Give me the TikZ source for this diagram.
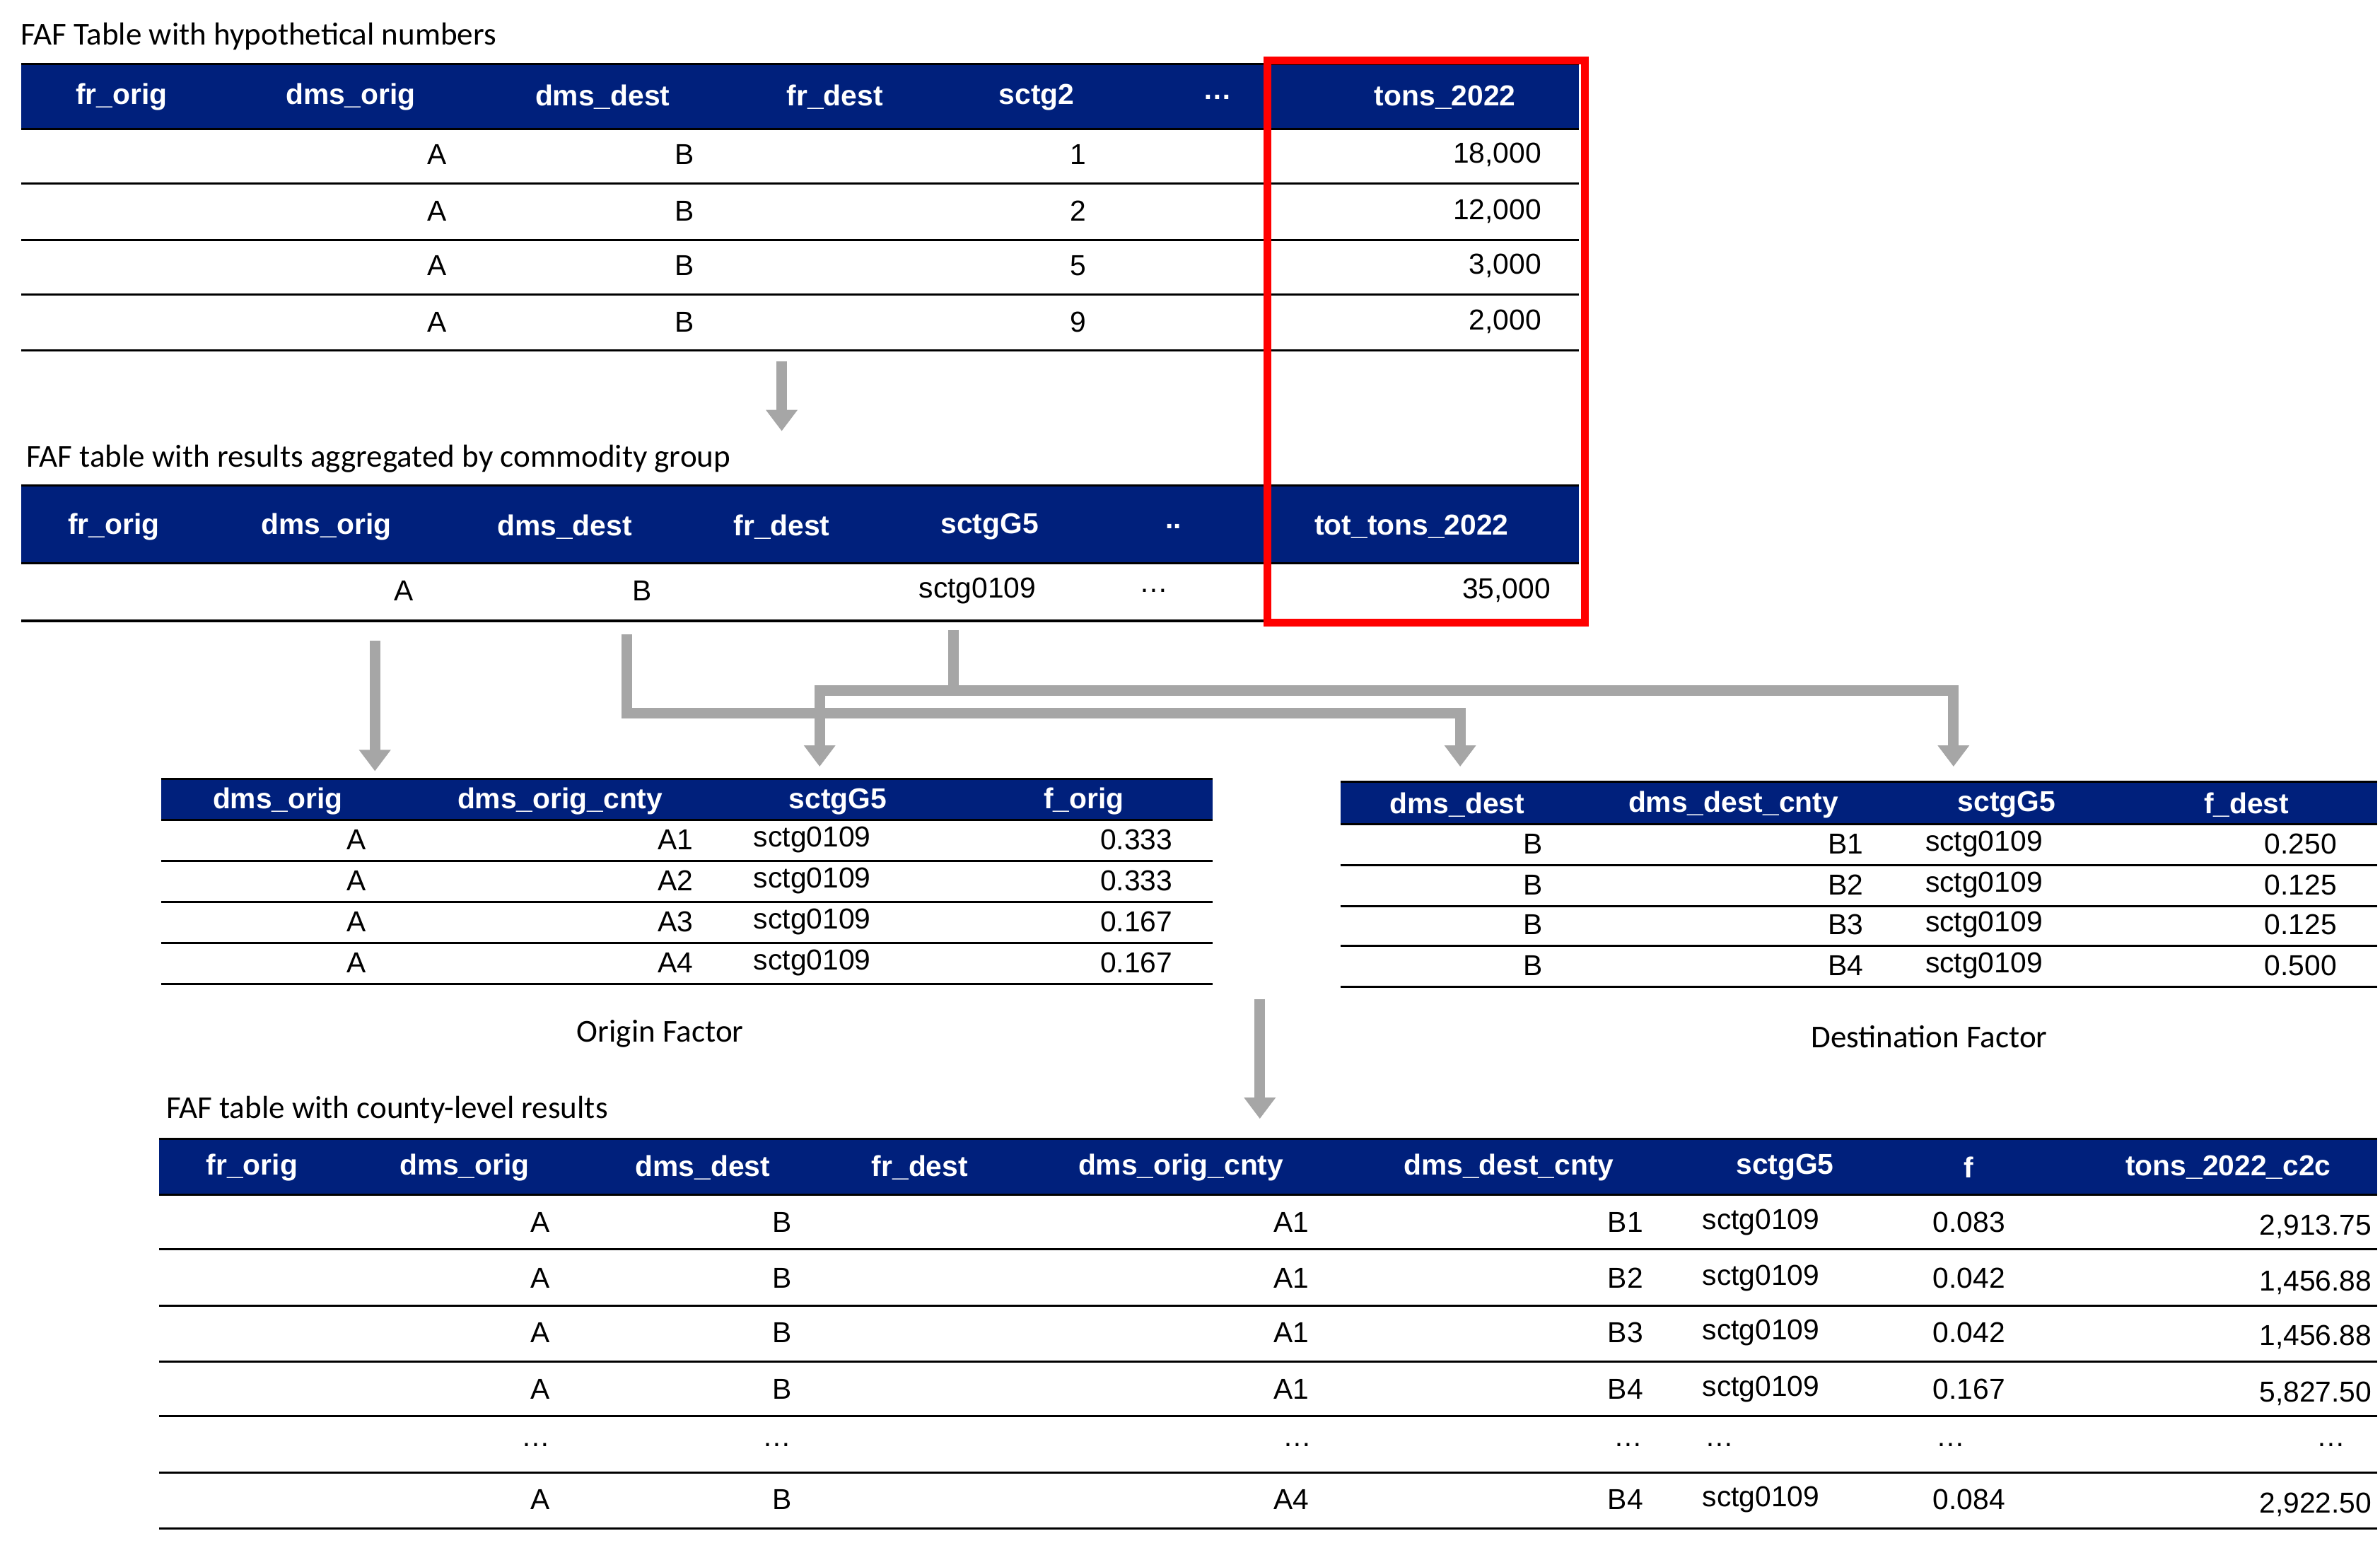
\documentclass[tikz,border=0pt]{standalone}
\usepackage{fontspec}
\setmainfont{Liberation Sans}
\newfontfamily\calfont{Carlito}
\usetikzlibrary{arrows.meta}
\definecolor{navy}{RGB}{0,32,124}
\definecolor{arr}{RGB}{166,166,166}
\begin{document}
\begin{tikzpicture}[x=1pt,y=-1pt,
  hd/.style={text=white,font=\fontsize{19}{19}\selectfont\bfseries},
  cl/.style={font=\fontsize{19}{19}\selectfont},
  ttl/.style={anchor=west,font=\calfont\fontsize{21}{21}\selectfont},
  hbar/.style={fill=navy},
  rl/.style={line width=1.4pt},
  ga/.style={draw=arr,line width=7pt,-{Triangle[width=20pt,length=14pt]}},
  gl/.style={draw=arr,line width=7pt}]
\useasboundingbox (0,0) rectangle (1568,1016);
% ---- Table 1
\node[ttl] (t1) at (10,24) {FAF Table with hypothetical numbers};
\fill[hbar] (14,42) rectangle (1040,85);
\draw[rl] (14,42)--(1040,42) (14,85)--(1040,85);
\foreach \x/\t in {80/fr\_orig,231/dms\_orig,397/dms\_dest,550/fr\_dest,683/sctg2,802/\dots,952/tons\_2022}
  \node[hd] at (\x,64) {\t};
\foreach \y/\s/\v [count=\i] in {102/1/18{,}000,139/2/12{,}000,175/5/3{,}000,212/9/2{,}000}{
  \node[cl,anchor=east] at (298,\y) {A};
  \node[cl,anchor=east] at (461,\y) {B};
  \node[cl,anchor=east] at (719,\y) {\s};
  \node[cl,anchor=east] at (1019,\y) {\v};
  \draw[rl] (14,\y+19)--(1040,\y+19);}
% ---- Table 2
\node[ttl] (t2) at (14,302) {FAF table with results aggregated by commodity group};
\fill[hbar] (14,320) rectangle (1040,371);
\draw[rl] (14,320)--(1040,320) (14,371)--(1040,371);
\foreach \x/\t in {75/fr\_orig,215/dms\_orig,372/dms\_dest,515/fr\_dest,652/sctgG5,773/..,930/tot\_tons\_2022}
  \node[hd] at (\x,347) {\t};
\node[cl,anchor=east] at (276,389) {A};
\node[cl,anchor=east] at (433,389) {B};
\node[cl] at (644,389) {sctg0109};
\node[cl] at (760,389) {\dots};
\node[cl,anchor=east] at (1025,389) {35{,}000};
\draw[rl] (14,409)--(1040,409);
\draw[red,line width=5pt] (835,40) rectangle (1044,410);
% ---- Origin table
\fill[hbar] (106,513) rectangle (799,540);
\draw[rl] (106,513)--(799,513) (106,540)--(799,540);
\foreach \x/\t in {183/dms\_orig,369/dms\_orig\_cnty,552/sctgG5,714/f\_orig}
  \node[hd] at (\x,528) {\t};
\foreach \y/\c/\v in {553/A1/0.333,580/A2/0.333,607/A3/0.167,634/A4/0.167}{
  \node[cl] at (235,\y) {A};
  \node[cl,anchor=east] at (460,\y) {\c};
  \node[cl,anchor=west] at (493,\y) {sctg0109};
  \node[cl,anchor=east] at (776,\y) {\v};
  \draw[rl] (106,\y+14)--(799,\y+14);}
\node[font=\calfont\fontsize{21}{21}\selectfont] (of) at (435,681) {Origin Factor};
% ---- Destination table
\fill[hbar] (883,515) rectangle (1566,543);
\draw[rl] (883,515)--(1566,515) (883,543)--(1566,543);
\foreach \x/\t in {960/dms\_dest,1142/dms\_dest\_cnty,1322/sctgG5,1480/f\_dest}
  \node[hd] at (\x,530) {\t};
\foreach \y/\c/\v in {556/B1/0.250,583/B2/0.125,609/B3/0.125,636/B4/0.500}{
  \node[cl] at (1010,\y) {B};
  \node[cl,anchor=east] at (1231,\y) {\c};
  \node[cl,anchor=west] at (1265,\y) {sctg0109};
  \node[cl,anchor=east] at (1543,\y) {\v};
  \draw[rl] (883,\y+14)--(1566,\y+14);}
\node[font=\calfont\fontsize{21}{21}\selectfont] (df) at (1271,683) {Destination Factor};
% ---- County table
\node[ttl] (t4) at (106,731) {FAF table with county-level results};
\fill[hbar] (105,750) rectangle (1566,787);
\draw[rl] (105,750)--(1566,750) (105,787)--(1566,787);
\foreach \x/\t in {166/fr\_orig,306/dms\_orig,463/dms\_dest,606/fr\_dest,778/dms\_orig\_cnty,994/dms\_dest\_cnty,1176/sctgG5,1297/f,1468/tons\_2022\_c2c}
  \node[hd] at (\x,769) {\t};
\foreach \y/\o/\d/\f/\v in {805/A1/B1/0.083/2{,}913.75,842/A1/B2/0.042/1{,}456.88,878/A1/B3/0.042/1{,}456.88,915/A1/B4/0.167/5{,}827.50,988/A4/B4/0.084/2{,}922.50}{
  \node[cl,anchor=east] at (366,\y) {A};
  \node[cl,anchor=east] at (525,\y) {B};
  \node[cl,anchor=east] at (866,\y) {\o};
  \node[cl,anchor=east] at (1086,\y) {\d};
  \node[cl,anchor=west] at (1118,\y) {sctg0109};
  \node[cl,anchor=west] at (1270,\y) {\f};
  \node[cl,anchor=east] at (1566,\y+3) {\v};}
\foreach \x in {366,525,868,1086} \node[cl,anchor=east] at (\x,952) {\dots};
\node[cl] at (1133,952) {\dots};
\node[cl] at (1285,952) {\dots};
\node[cl,anchor=east] at (1549,952) {\dots};
\foreach \y in {823,860,897,933,970,1007} \draw[rl] (105,\y)--(1566,\y);
% ---- Arrows
\coordinate (a1s) at (515,238); \coordinate (a1e) at (515,284);
\draw[ga] (a1s)--(a1e);
\coordinate (aos) at (247,422); \coordinate (aoe) at (247,508);
\draw[ga] (aos)--(aoe);
\coordinate (ads) at (413,418); \coordinate (adm) at (413,470); \coordinate (ade) at (962,505);
\draw[ga] (ads)--(adm)--(ade|-adm)--(ade);
\coordinate (ass) at (628,415); \coordinate (asm) at (628,455);
\coordinate (ase1) at (540,505); \coordinate (ase2) at (1287,505);
\draw[gl] (ass)--(asm);
\draw[ga] (asm)--(ase1|-asm)--(ase1);
\draw[ga] (asm)--(ase2|-asm)--(ase2);
\coordinate (acs) at (830,658); \coordinate (ace) at (830,737);
\draw[ga] (acs)--(ace);
\end{tikzpicture}
\end{document}
